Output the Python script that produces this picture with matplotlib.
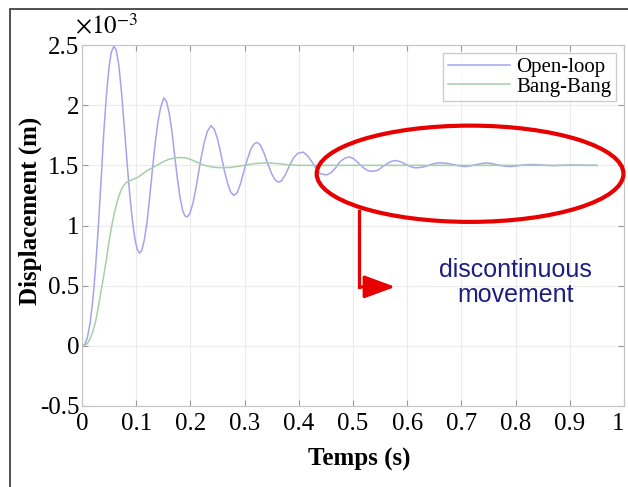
import matplotlib
matplotlib.use("Agg")
import matplotlib.pyplot as plt
from matplotlib.patches import Ellipse, Rectangle

plt.rcParams['font.family'] = ['Liberation Serif', 'DejaVu Serif']
plt.rcParams['mathtext.fontset'] = 'stix'

# open-loop response (x 1e-3 m)
t_open = [0.000, 0.005, 0.010, 0.015, 0.020, 0.025, 0.030, 0.035, 0.040, 0.045,
          0.050, 0.054, 0.059, 0.063, 0.068, 0.073, 0.078, 0.083, 0.088, 0.093,
          0.098, 0.102, 0.106, 0.110, 0.115, 0.120, 0.125, 0.130, 0.135, 0.140,
          0.145, 0.151, 0.156, 0.161, 0.166, 0.171, 0.176, 0.181, 0.186, 0.190,
          0.194, 0.199, 0.205, 0.211, 0.218, 0.225, 0.231, 0.238, 0.244, 0.250,
          0.256, 0.262, 0.268, 0.274, 0.280, 0.286, 0.292, 0.298, 0.305, 0.312,
          0.318, 0.323, 0.329, 0.336, 0.343, 0.350, 0.356, 0.362, 0.368, 0.375,
          0.382, 0.390, 0.398, 0.408, 0.416, 0.424, 0.432, 0.440, 0.451, 0.460,
          0.468, 0.476, 0.485, 0.493, 0.501, 0.510, 0.519, 0.528, 0.537, 0.546,
          0.555, 0.565, 0.572, 0.579, 0.588, 0.597, 0.606, 0.613, 0.620, 0.628,
          0.637, 0.646, 0.656, 0.666, 0.676, 0.686, 0.696, 0.706, 0.716, 0.726,
          0.737, 0.747, 0.758, 0.770, 0.780, 0.790, 0.802, 0.815, 0.828, 0.840,
          0.855, 0.870, 0.885, 0.900, 0.915, 0.930, 0.950]
y_open = [0.00, 0.01, 0.07, 0.19, 0.38, 0.65, 0.98, 1.36, 1.76, 2.08,
          2.32, 2.44, 2.49, 2.46, 2.33, 2.10, 1.82, 1.53, 1.26, 1.04,
          0.88, 0.80, 0.77, 0.79, 0.88, 1.03, 1.24, 1.47, 1.68, 1.86,
          1.98, 2.06, 2.03, 1.93, 1.78, 1.58, 1.39, 1.23, 1.12, 1.08,
          1.07, 1.10, 1.19, 1.33, 1.52, 1.68, 1.78, 1.83, 1.80, 1.72,
          1.60, 1.47, 1.36, 1.28, 1.25, 1.27, 1.34, 1.44, 1.55, 1.64,
          1.68, 1.69, 1.67, 1.60, 1.51, 1.43, 1.38, 1.36, 1.37, 1.42,
          1.49, 1.56, 1.60, 1.61, 1.58, 1.53, 1.47, 1.43, 1.42, 1.44,
          1.48, 1.53, 1.56, 1.57, 1.555, 1.52, 1.48, 1.455, 1.45, 1.46,
          1.49, 1.52, 1.535, 1.54, 1.53, 1.51, 1.49, 1.48, 1.48, 1.485,
          1.495, 1.51, 1.52, 1.52, 1.515, 1.505, 1.495, 1.49, 1.495, 1.505,
          1.515, 1.52, 1.513, 1.50, 1.493, 1.49, 1.495, 1.503, 1.507, 1.505,
          1.50, 1.497, 1.50, 1.503, 1.502, 1.50, 1.50]

# bang-bang response (x 1e-3 m)
t_bang = [0.000, 0.005, 0.010, 0.015, 0.020, 0.025, 0.030, 0.035, 0.040, 0.045,
          0.050, 0.055, 0.060, 0.065, 0.070, 0.075, 0.080, 0.087, 0.095, 0.103,
          0.112, 0.120, 0.130, 0.140, 0.150, 0.160, 0.170, 0.180, 0.190, 0.200,
          0.210, 0.220, 0.230, 0.245, 0.260, 0.275, 0.290, 0.305, 0.320, 0.340,
          0.360, 0.380, 0.400, 0.450, 0.950]
y_bang = [0.00, 0.005, 0.02, 0.06, 0.12, 0.20, 0.32, 0.45, 0.58, 0.72,
          0.87, 1.00, 1.11, 1.20, 1.27, 1.32, 1.35, 1.37, 1.385, 1.40,
          1.43, 1.455, 1.48, 1.505, 1.53, 1.55, 1.56, 1.565, 1.563, 1.55,
          1.53, 1.51, 1.495, 1.483, 1.48, 1.483, 1.493, 1.505, 1.515, 1.52,
          1.515, 1.505, 1.50, 1.50, 1.50]

x_ticks = [0, 0.1, 0.2, 0.3, 0.4, 0.5, 0.6, 0.7, 0.8, 0.9, 1]
x_labels = ['0', '0.1', '0.2', '0.3', '0.4', '0.5', '0.6', '0.7', '0.8', '0.9', '1']
y_ticks = [-0.5, 0, 0.5, 1, 1.5, 2, 2.5]
y_labels = ['-0.5', '0', '0.5', '1', '1.5', '2', '2.5']

fig = plt.figure(figsize=(6.28, 4.87), dpi=100)
ax = fig.add_axes([82/628, 1-406/487, 542/628, 361/487])

ax.plot(t_open, y_open, color='#a4a4ee', lw=1.1, label='Open-loop')
ax.plot(t_bang, y_bang, color='#a6cfa6', lw=1.1, label='Bang-Bang')

ax.set_xlim(0, 1)
ax.set_ylim(-0.5, 2.5)
ax.set_xticks(x_ticks)
ax.set_xticklabels(x_labels)
ax.set_yticks(y_ticks)
ax.set_yticklabels(y_labels)
ax.tick_params(direction='in', length=4, color='#999999', top=True, right=True,
               labelsize=18, labelcolor='black')
ax.tick_params(axis='x', pad=5)
ax.tick_params(axis='y', pad=2)
ax.get_xticklabels()[-1].set_horizontalalignment('right')
ax.grid(True, color='#ebebeb', lw=0.8)
for s in ax.spines.values():
    s.set_color('#c4c4c4')

ax.set_xlabel('Temps (s)', fontsize=18, fontweight='bold')
ax.xaxis.set_label_coords(0.511, -0.117)
ax.set_ylabel('Displacement (m)', fontsize=18, fontweight='bold')
ax.yaxis.set_label_coords(-0.074, 0.54)
fig.text(75/628, 1-34/487, r'$\times10^{-3}$', fontsize=18, va='baseline')

leg = ax.legend(loc='upper right', fontsize=15, frameon=True, fancybox=False,
                edgecolor='#c0c0c0', labelspacing=0.0, borderpad=0.2,
                handlelength=3.0, handletextpad=0.3, borderaxespad=0.4)
leg.get_frame().set_linewidth(1.0)

# annotation: ellipse + arrow + text
ax.add_patch(Ellipse((0.716, 1.43), 0.566, 0.80, fill=False, edgecolor='#e80000',
                     lw=3.0, clip_on=False, zorder=5))
ax.plot([0.511, 0.511], [1.12, 0.49], color='#e80000', lw=2.3, zorder=5)
ax.annotate('', xy=(0.583, 0.49), xytext=(0.508, 0.49),
            arrowprops=dict(arrowstyle='-|>,head_length=1.9,head_width=0.7',
                            color='#e80000', lw=2.3), zorder=5)
ax.text(0.80, 0.53, 'discontinuous\nmovement', color='#1e1e80', fontsize=18,
        family=['Liberation Sans', 'DejaVu Sans'], ha='center', va='center',
        linespacing=1.05)

# outer frame
fig.add_artist(Rectangle((10/628, -0.1), 2, 1.1-9/487, fill=False,
                         edgecolor='#333333', lw=1.2, transform=fig.transFigure))

fig.savefig('out.png', dpi=100)
